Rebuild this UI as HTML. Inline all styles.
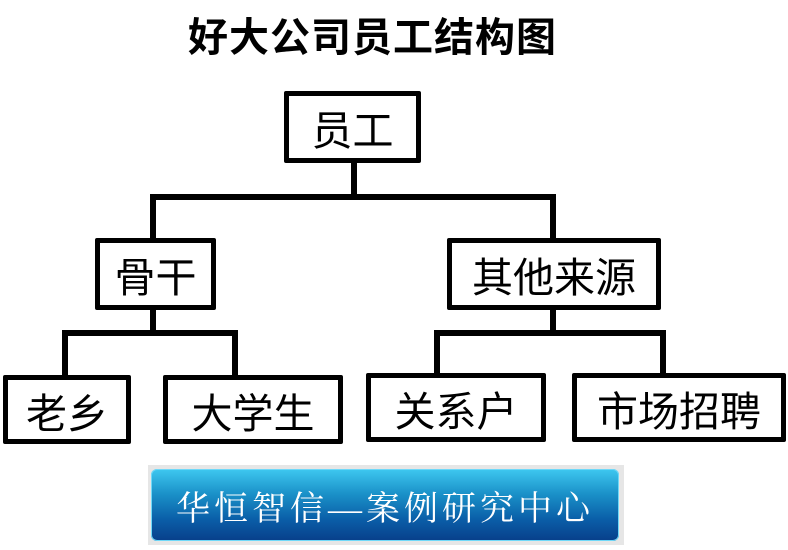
<!DOCTYPE html>
<html><head><meta charset="utf-8"><style>
body{margin:0;width:788px;height:550px;background:#fff;position:relative;overflow:hidden;font-family:"Liberation Sans","Noto Sans CJK SC",sans-serif}
.b{position:absolute;border:5px solid #000;box-sizing:border-box;border-radius:2px;display:flex;align-items:center;justify-content:center;font-size:41px;color:#000;background:#fff}
.l{position:absolute;background:#000}
</style></head><body>
<div style="position:absolute;left:188px;top:14px;font-size:40px;font-weight:bold;letter-spacing:1px;line-height:48px">好大公司员工结构图</div>
<div class="l" style="left:351px;top:160px;width:6px;height:40px"></div>
<div class="l" style="left:150px;top:194px;width:406px;height:6px"></div>
<div class="l" style="left:150px;top:194px;width:6px;height:48px"></div>
<div class="l" style="left:550px;top:194px;width:6px;height:48px"></div>
<div class="l" style="left:150px;top:306px;width:6px;height:30px"></div>
<div class="l" style="left:62px;top:330px;width:176px;height:6px"></div>
<div class="l" style="left:62px;top:330px;width:6px;height:48px"></div>
<div class="l" style="left:232px;top:330px;width:6px;height:48px"></div>
<div class="l" style="left:550px;top:306px;width:6px;height:30px"></div>
<div class="l" style="left:434px;top:330px;width:232px;height:6px"></div>
<div class="l" style="left:434px;top:330px;width:6px;height:46px"></div>
<div class="l" style="left:660px;top:330px;width:6px;height:46px"></div>
<div class="b" style="left:284px;top:91px;width:137px;height:72px">员工</div>
<div class="b" style="left:95px;top:238px;width:121px;height:72px">骨干</div>
<div class="b" style="left:447px;top:238px;width:214px;height:72px">其他来源</div>
<div class="b" style="left:3px;top:375px;width:128px;height:69px">老乡</div>
<div class="b" style="left:163px;top:375px;width:180px;height:69px">大学生</div>
<div class="b" style="left:366px;top:373px;width:180px;height:69px">关系户</div>
<div class="b" style="left:572px;top:373px;width:214px;height:69px">市场招聘</div>
<div style="position:absolute;left:148px;top:465px;width:476px;height:80px;background:#e6e6e6"></div>
<div style="position:absolute;left:151px;top:469px;width:468px;height:72px;border-radius:6px;background:linear-gradient(180deg,#3ec8f0 0%,#1a90c8 35%,#0a5ea8 70%,#083f8a 100%);box-shadow:inset 0 0 0 1px #6fd8f8;display:flex;align-items:center;justify-content:center;color:#fff;font-family:'Liberation Serif','Noto Serif CJK SC',serif;font-size:34px;letter-spacing:4px">华恒智信—案例研究中心</div>
</body></html>
